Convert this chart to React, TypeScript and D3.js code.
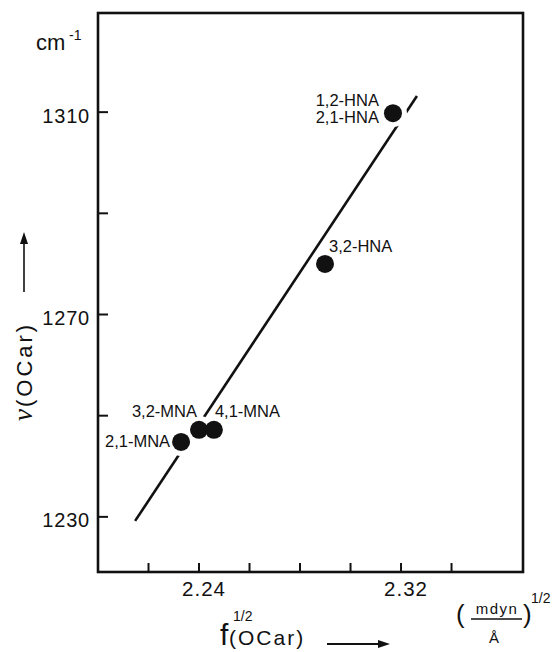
import React from "react";
import * as d3 from "d3";

// ---- data ----
const pointLabels = ["1,2-HNA", "3,2-HNA", "2,1-MNA", "3,2-MNA", "4,1-MNA"];
const fValues = [2.3168, 2.2899, 2.2329, 2.24, 2.2459];
const nuValues = [1309.8, 1280.0, 1244.8, 1247.2, 1247.2];
const fitF = [2.2147, 2.3263];
const fitNu = [1229.2, 1313.2];
const xTicks = [2.22, 2.24, 2.26, 2.28, 2.3, 2.32, 2.34];
const xTickLabels = ["", "2.24", "", "", "", "2.32", ""];
const yTicks = [1230, 1250, 1270, 1290, 1310];
const yTickLabels = ["1230", "", "1270", "", "1310"];

// label placement (px offsets from point)
const labelLayout = [
  { lines: ["1,2-HNA", "2,1-HNA"], dx: -14, dy: [-7, 10], anchor: "end" },
  { lines: ["3,2-HNA"], dx: 4, dy: [-12], anchor: "start" },
  { lines: ["2,1-MNA"], dx: -11, dy: [5], anchor: "end" },
  { lines: ["3,2-MNA"], dx: -2, dy: [-13], anchor: "end" },
  { lines: ["4,1-MNA"], dx: 1, dy: [-13], anchor: "start" },
];

const W = 557;
const H = 652;
const left = 98, right = 523, top = 13, bottom = 572;
const FONT = "'Liberation Sans', Arial, Helvetica, sans-serif";

export default function App() {
  const x = d3.scaleLinear().domain([2.2, 2.3683]).range([left, right]);
  const y = d3.scaleLinear().domain([1219.1, 1329.6]).range([bottom, top]);
  const line = d3.line<number>().x((_, i) => x(fitF[i])).y((_, i) => y(fitNu[i]));

  return (
    <svg
      width={W}
      height={H}
      style={{ position: "absolute", left: 0, top: 0, background: "#fff" }}
      fontFamily={FONT}
    >
      <rect x={0} y={0} width={W} height={H} fill="#fff" />
      {/* frame */}
      <rect x={left} y={top} width={right - left} height={bottom - top} fill="none" stroke="#111" strokeWidth={2.6} />
      {/* y ticks */}
      {yTicks.map((t, i) => (
        <g key={"y" + t}>
          <line x1={left} x2={left + 10} y1={y(t)} y2={y(t)} stroke="#111" strokeWidth={2} />
          {yTickLabels[i] && (
            <text x={90} y={y(t) + 10.5} textAnchor="end" fontSize={20} letterSpacing={0.8} fill="#111">
              {yTickLabels[i]}
            </text>
          )}
        </g>
      ))}
      {/* x ticks */}
      {xTicks.map((t, i) => (
        <g key={"x" + t}>
          <line x1={x(t)} x2={x(t)} y1={bottom} y2={bottom - 9} stroke="#111" strokeWidth={2} />
          {xTickLabels[i] && (
            <text x={x(t) + 5} y={596} textAnchor="middle" fontSize={20.5} letterSpacing={1} fill="#111">
              {xTickLabels[i]}
            </text>
          )}
        </g>
      ))}
      {/* fit line */}
      <path d={line(fitF) || ""} fill="none" stroke="#111" strokeWidth={2.6} />
      {/* halos */}
      {fValues.map((f, i) => (
        <circle key={"h" + i} cx={x(f)} cy={y(nuValues[i])} r={14} fill="#fff" />
      ))}
      {/* points */}
      {fValues.map((f, i) => (
        <circle key={"p" + i} cx={x(f)} cy={y(nuValues[i])} r={9} fill="#111" />
      ))}
      {/* point labels */}
      {labelLayout.map((L, i) =>
        L.lines.map((s, j) => (
          <text
            key={"l" + i + "-" + j}
            x={x(fValues[i]) + L.dx}
            y={y(nuValues[i]) + L.dy[j]}
            textAnchor={L.anchor as any}
            fontSize={16.5}
            fill="#111"
          >
            {s}
          </text>
        ))
      )}
      {/* y unit */}
      <text x={36} y={50} fontSize={22} fill="#111">cm</text>
      <text x={69} y={40} fontSize={14} fill="#111">-1</text>
      {/* y axis title */}
      <text transform="translate(32,421) rotate(-90)" fill="#111">
        <tspan fontFamily="'Liberation Serif', serif" fontStyle="italic" fontSize={27}>ν</tspan>
        <tspan fontSize={22} letterSpacing={3} dx={2}>(OCar)</tspan>
      </text>
      <line x1={24} x2={24} y1={292} y2={242} stroke="#111" strokeWidth={1.6} />
      <path d="M24,232 L20,244 L28,244 Z" fill="#111" />
      {/* x axis title */}
      <text x={220} y={645} fontSize={30} fill="#111">f</text>
      <text x={233} y={621} fontSize={14} fill="#111">1/2</text>
      <text x={229} y={645} fontSize={21} letterSpacing={2} fill="#111">(OCar)</text>
      <line x1={327} x2={380} y1={644} y2={644} stroke="#111" strokeWidth={1.8} />
      <path d="M390,644 L378,640 L378,648 Z" fill="#111" />
      {/* x unit */}
      <text x={456} y={623} fontSize={26} fill="#111" fontWeight={300}>(</text>
      <text x={497} y={614} fontSize={15} textAnchor="middle" letterSpacing={1.5} fill="#111">mdyn</text>
      <line x1={471} x2={522} y1={619} y2={619} stroke="#111" strokeWidth={1.6} />
      <text x={494} y={643} fontSize={15} textAnchor="middle" fill="#111">Å</text>
      <text x={523} y={623} fontSize={26} fill="#111">)</text>
      <text x={531} y={603} fontSize={14} fill="#111">1/2</text>
    </svg>
  );
}
